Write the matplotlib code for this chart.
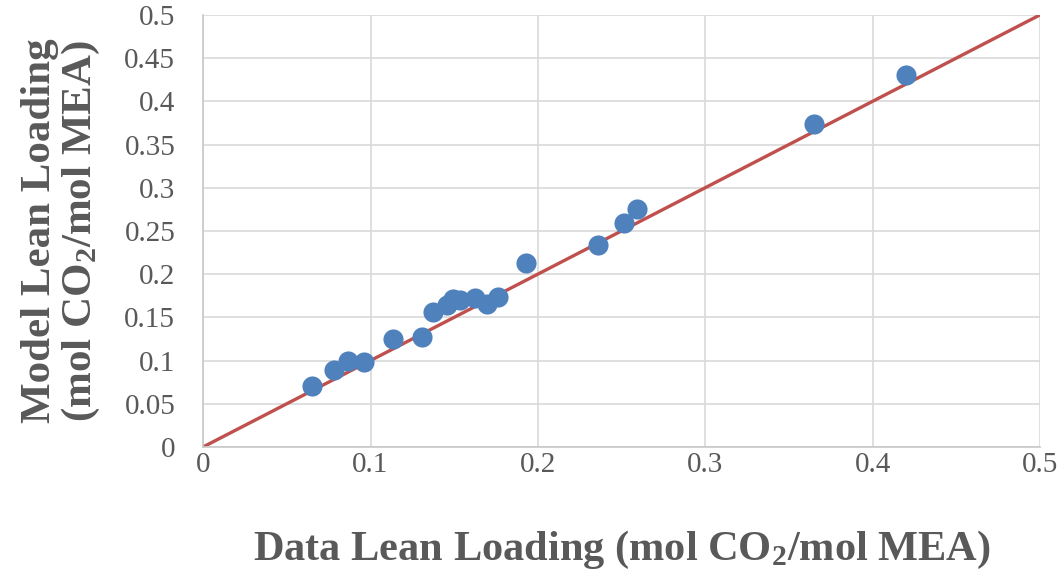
import numpy as np
import matplotlib.pyplot as plt
from matplotlib.ticker import FuncFormatter, MultipleLocator

plt.rcParams['font.family'] = 'Liberation Serif'
plt.rcParams['mathtext.fontset'] = 'custom'
plt.rcParams['mathtext.rm'] = 'Liberation Serif:bold'
plt.rcParams['mathtext.it'] = 'Liberation Serif:bold'
plt.rcParams['mathtext.bf'] = 'Liberation Serif:bold'

# measured vs. model lean loading
data_lean = [0.065, 0.078, 0.0866, 0.096, 0.1137, 0.131, 0.1372, 0.1455, 0.1495,
             0.1535, 0.1625, 0.1695, 0.1764, 0.193, 0.2361, 0.2515, 0.2594,
             0.365, 0.42]
model_lean = [0.0706, 0.089, 0.0995, 0.098, 0.125, 0.1277, 0.156, 0.164, 0.171,
              0.170, 0.172, 0.166, 0.174, 0.2133, 0.2338, 0.2596, 0.275,
              0.374, 0.4306]
parity = [0, 0.5]

grey = '#595959'

fig = plt.figure(figsize=(10.58, 5.73), dpi=100)
ax = fig.add_axes([0.192, 0.22, 0.791, 0.754])

ax.plot(parity, parity, color='#C0504D', lw=2.4, zorder=2)
ax.scatter(data_lean, model_lean, s=210, color='#4F81BD', zorder=3, linewidths=0)

ax.set_xlim(0, 0.5)
ax.set_ylim(0, 0.5)
ax.xaxis.set_major_locator(MultipleLocator(0.1))
ax.yaxis.set_major_locator(MultipleLocator(0.05))
fmt = FuncFormatter(lambda v, p: '{:g}'.format(round(v, 3)))
ax.xaxis.set_major_formatter(fmt)
ax.yaxis.set_major_formatter(fmt)
ax.tick_params(length=0, labelsize=21, labelcolor=grey)
ax.tick_params(axis='y', pad=20)
ax.tick_params(axis='x', pad=4)

ax.grid(True, color='#D9D9D9', lw=1.2)
ax.set_axisbelow(True)
for s in ['top', 'right']:
    ax.spines[s].set_visible(False)
for s in ['left', 'bottom']:
    ax.spines[s].set_color('#C8C8C8')
    ax.spines[s].set_linewidth(1.2)

ax.set_xlabel('Data Lean Loading (mol CO$_2$/mol MEA)', fontsize=30.5,
              fontweight='bold', color=grey, labelpad=36)
ax.set_ylabel('Model Lean Loading\n(mol CO$_2$/mol MEA)', fontsize=31,
              fontweight='bold', color=grey, labelpad=16, linespacing=1.05)

fig.savefig('out.png', dpi=100)
